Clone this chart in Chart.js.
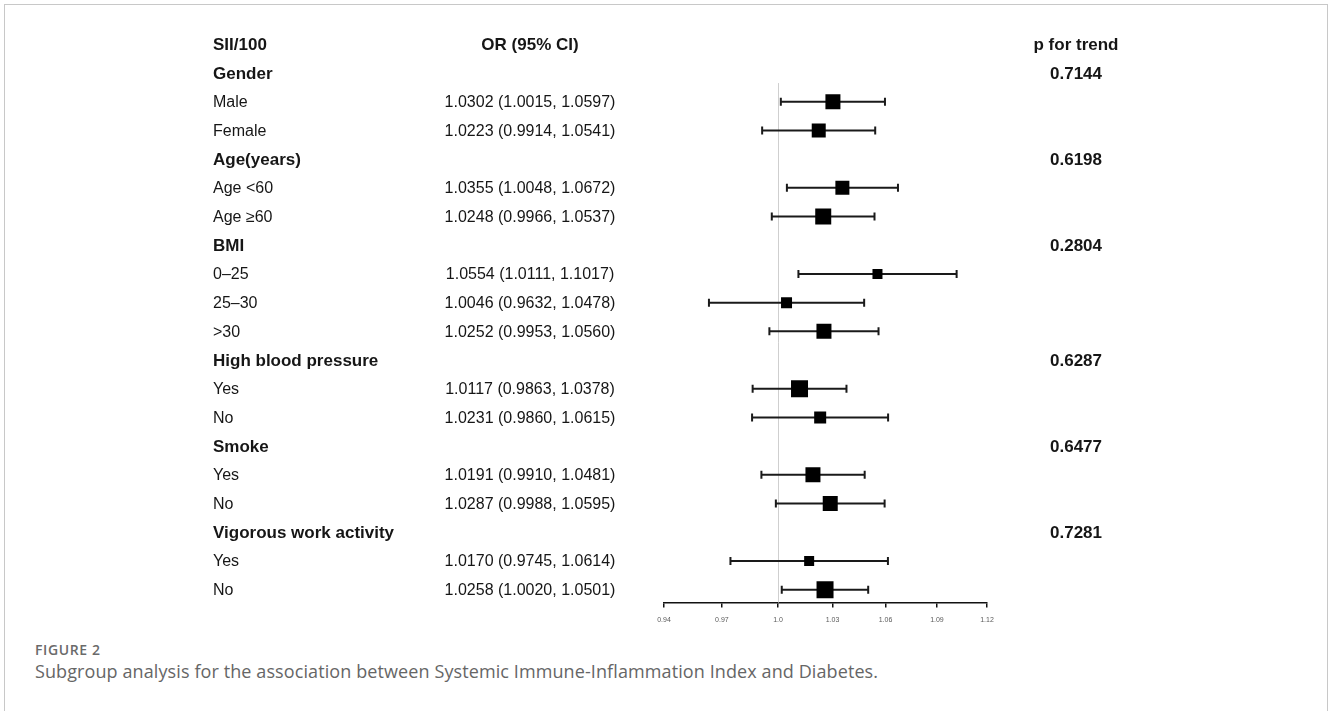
<!DOCTYPE html>
<html>
<head>
<meta charset="utf-8">
<script src="https://cdn.jsdelivr.net/npm/chart.js@4.4.1/dist/chart.umd.min.js"></script>
<style>
    html, body { margin: 0; padding: 0; background: #fff; }
    body { width: 1328px; height: 711px; position: relative; overflow: hidden; }
    #frame {
        position: absolute; left: 4px; top: 4px; width: 1322px; height: 760px;
        border: 1px solid #c8c8c8; border-bottom: none;
    }
    #plot { position: absolute; left: 0; top: 0; width: 1328px; height: 640px; }
    .fig-no {
        position: absolute; left: 35px; top: 640px;
        font: 600 14px "Open Sans", sans-serif; color: #6a6a6a; letter-spacing: 0.6px;
    }
    .caption {
        position: absolute; left: 35px; top: 659px;
        font: 18px "Open Sans", sans-serif; color: #666; letter-spacing: 0.1px;
    }
</style>
</head>
<body>
<div id="frame"></div>
<div id="plot"><canvas id="forest" width="1328" height="640"></canvas></div>
<div class="fig-no">FIGURE 2</div>
<div class="caption">Subgroup analysis for the association between Systemic Immune-Inflammation Index and Diabetes.</div>

<script>
// Table header
const headerLabels = ['SII/100', 'OR (95% CI)', 'p for trend'];

// One entry per table row (group headings have no estimate)
const rowLabels = ['Gender', 'Male', 'Female', 'Age(years)', 'Age <60', 'Age \u226560', 'BMI', '0\u201325', '25\u201330', '>30',
    'High blood pressure', 'Yes', 'No', 'Smoke', 'Yes', 'No', 'Vigorous work activity', 'Yes', 'No'];
const orValues = [null, 1.0302, 1.0223, null, 1.0355, 1.0248, null, 1.0554, 1.0046, 1.0252,
    null, 1.0117, 1.0231, null, 1.0191, 1.0287, null, 1.0170, 1.0258];
const ciLower = [null, 1.0015, 0.9914, null, 1.0048, 0.9966, null, 1.0111, 0.9632, 0.9953,
    null, 0.9863, 0.9860, null, 0.9910, 0.9988, null, 0.9745, 1.0020];
const ciUpper = [null, 1.0597, 1.0541, null, 1.0672, 1.0537, null, 1.1017, 1.0478, 1.0560,
    null, 1.0378, 1.0615, null, 1.0481, 1.0595, null, 1.0614, 1.0501];
const pTrend = ['0.7144', null, null, '0.6198', null, null, '0.2804', null, null, null,
    '0.6287', null, null, '0.6477', null, null, '0.7281', null, null];
// relative box weights
const boxWeights = [null, 15, 14, null, 14, 16, null, 10, 11, 15, null, 17, 12, null, 15, 15, null, 10, 17];

// x axis
const tickValues = [0.94, 0.97, 1.0, 1.03, 1.06, 1.09, 1.12];
const tickLabels = ['0.94', '0.97', '1.0', '1.03', '1.06', '1.09', '1.12'];
const refValue = 1.0;

const TEXT = '#161616';
const COL_LABEL = 213;
const COL_OR = 530;
const COL_P = 1076;
const TEXT_SHIFT = 1;

function fmt(v) {
    return v.toFixed(4);
}

// rows are numbered from 1, header sits on row 0
const squarePoints = [];
const squareSizes = [];
const ciDatasets = [];
orValues.forEach((v, i) => {
    if (v === null) return;
    squarePoints.push({ x: v, y: i + 1 });
    squareSizes.push(boxWeights[i] / Math.SQRT2);
    ciDatasets.push({
        type: 'line',
        data: [{ x: ciLower[i], y: i + 1 }, { x: ciUpper[i], y: i + 1 }],
        borderColor: '#1a1a1a',
        borderWidth: 2,
        pointStyle: 'line',
        pointRotation: 90,
        pointRadius: 4,
        pointBorderWidth: 2,
        pointBorderColor: '#1a1a1a',
        pointHoverRadius: 4,
        order: 2
    });
});

const tablePlugin = {
    id: 'tableText',
    beforeDatasetsDraw(chart) {
        const { ctx, scales: { x, y }, chartArea } = chart;
        const px = Math.round(x.getPixelForValue(refValue)) + 0.5;
        ctx.save();
        ctx.strokeStyle = '#cfcfcf';
        ctx.lineWidth = 1;
        ctx.beginPath();
        ctx.moveTo(px, y.getPixelForValue(1.35));
        ctx.lineTo(px, chartArea.bottom);
        ctx.stroke();
        ctx.restore();
    },
    afterDraw(chart) {
        const { ctx, scales: { y } } = chart;
        ctx.save();
        ctx.fillStyle = TEXT;
        ctx.textBaseline = 'middle';

        const y0 = y.getPixelForValue(0) + TEXT_SHIFT;
        ctx.font = 'bold 17px "Liberation Sans", Arial, sans-serif';
        ctx.textAlign = 'left';
        ctx.fillText(headerLabels[0], COL_LABEL, y0);
        ctx.textAlign = 'center';
        ctx.fillText(headerLabels[1], COL_OR, y0);
        ctx.fillText(headerLabels[2], COL_P, y0);

        rowLabels.forEach((label, i) => {
            const py = y.getPixelForValue(i + 1) + TEXT_SHIFT;
            const isGroup = orValues[i] === null;
            ctx.font = (isGroup ? 'bold 17px' : '16px') + ' "Liberation Sans", Arial, sans-serif';
            ctx.textAlign = 'left';
            ctx.fillText(label, COL_LABEL, py);
            if (!isGroup) {
                ctx.textAlign = 'center';
                ctx.fillText(fmt(orValues[i]) + ' (' + fmt(ciLower[i]) + ', ' + fmt(ciUpper[i]) + ')', COL_OR, py);
            }
            if (pTrend[i]) {
                ctx.font = 'bold 17px "Liberation Sans", Arial, sans-serif';
                ctx.textAlign = 'center';
                ctx.fillText(pTrend[i], COL_P, py);
            }
        });
        ctx.restore();
    }
};

new Chart(document.getElementById('forest'), {
    type: 'scatter',
    data: {
        datasets: [{
            data: squarePoints,
            pointStyle: 'rect',
            pointRadius: squareSizes,
            pointHoverRadius: squareSizes,
            backgroundColor: '#000',
            borderColor: '#000',
            borderWidth: 0,
            order: 1
        }, ...ciDatasets]
    },
    options: {
        responsive: false,
        animation: false,
        events: [],
        layout: { padding: { left: 664, right: 341, top: 15.6, bottom: 8 } },
        plugins: { legend: { display: false }, tooltip: { enabled: false } },
        scales: {
            x: {
                type: 'logarithmic',
                min: 0.94,
                max: 1.12,
                afterBuildTicks: (scale) => {
                    scale.ticks = tickValues.map(v => ({ value: v }));
                },
                ticks: {
                    autoSkip: false,
                    maxRotation: 0,
                    padding: 8,
                    color: '#5a5a5a',
                    font: { size: 7, family: 'Arial, "Liberation Sans", sans-serif' },
                    callback: (value, index) => tickLabels[index]
                },
                grid: {
                    drawOnChartArea: false,
                    drawTicks: true,
                    tickLength: 5,
                    color: '#111',
                    lineWidth: 1.5
                },
                border: { display: true, color: '#111', width: 1.5 }
            },
            y: {
                type: 'linear',
                reverse: true,
                min: -1,
                max: 19.45,
                display: false
            }
        }
    },
    plugins: [tablePlugin]
});
</script>
</body>
</html>
